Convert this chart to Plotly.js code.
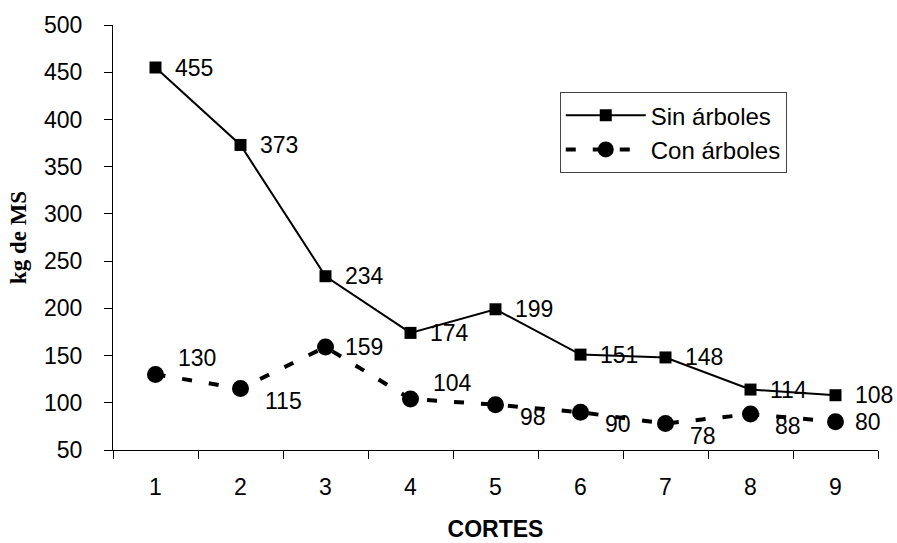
<!DOCTYPE html>
<html>
<head>
<meta charset="utf-8">
<script src="https://cdn.plot.ly/plotly-3.0.1.min.js"></script>
<style>html,body{margin:0;padding:0;background:#fff;}#chart{width:897px;height:543px;}</style>
</head>
<body>
<div id="chart"></div>
<script>
var cortes = ["1","2","3","4","5","6","7","8","9"];
var sinArboles = [455, 373, 234, 174, 199, 151, 148, 114, 108];
var conArboles = [130, 115, 159, 104, 98, 90, 78, 88, 80];
var sinLabelPlace = ["right","right","right","right","right","right","right","right","right"];
var conLabelPlace = ["above","below","right","above","below","below","below","below","right"];
var yTicks = [50,100,150,200,250,300,350,400,450,500];

var font = "Liberation Sans, Arial, sans-serif";
var FS = 23;
var shifts = {right: [17, 0], above: [20, 16], below: [22, -12]};

var traces = [
  {
    x: cortes, y: sinArboles, name: "Sin árboles", type: "scatter", mode: "lines+markers",
    line: {color: "#000", width: 2},
    marker: {symbol: "square", size: 12, color: "#000"}
  },
  {
    x: cortes, y: conArboles, name: "Con árboles", type: "scatter", mode: "lines+markers",
    line: {color: "#000", width: 4, dash: "10px,17px"},
    marker: {symbol: "circle", size: 17, color: "#000"}
  }
];

function labels(ys, places) {
  return ys.map(function (v, i) {
    var s = shifts[places[i]];
    return {
      x: i, y: v, xref: "x", yref: "y", text: String(v), showarrow: false,
      xanchor: "left", yanchor: "middle", xshift: s[0], yshift: s[1],
      font: {family: font, size: FS, color: "#000"}
    };
  });
}

var layout = {
  width: 897, height: 543,
  margin: {l: 113, r: 19, t: 25, b: 93},
  paper_bgcolor: "#fff", plot_bgcolor: "#fff",
  font: {family: font, size: FS, color: "#000"},
  showlegend: true,
  legend: {
    x: 0.584, y: 0.842, xanchor: "left", yanchor: "top",
    bordercolor: "#444", borderwidth: 1, bgcolor: "#fff",
    font: {family: font, size: FS + 1, color: "#000"},
    itemwidth: 80, tracegroupgap: 0
  },
  annotations: labels(sinArboles, sinLabelPlace).concat(labels(conArboles, conLabelPlace)),
  xaxis: {
    type: "category", range: [-0.5, cortes.length - 0.5], tickson: "boundaries", ticks: "outside", ticklen: 8, tickcolor: "#000",
    showline: true, linecolor: "#000", linewidth: 1, showgrid: false, zeroline: false, automargin: false,
    tickfont: {family: font, size: FS}, ticklabelstandoff: 16,
    title: {text: "<b>CORTES</b>", font: {family: font, size: FS}, standoff: 22}
  },
  yaxis: {
    range: [50, 500], tickvals: yTicks, ticks: "outside", ticklen: 8, tickcolor: "#000",
    showline: true, linecolor: "#000", linewidth: 1, showgrid: false, zeroline: false, automargin: false,
    tickfont: {family: font, size: FS}, ticklabelstandoff: 17,
    title: {text: "<b>kg de MS</b>", font: {family: "Liberation Serif, Times New Roman, serif", size: 23}, standoff: 10}
  }
};
Plotly.newPlot("chart", traces, layout, {displayModeBar: false, staticPlot: true});
</script>
</body>
</html>
